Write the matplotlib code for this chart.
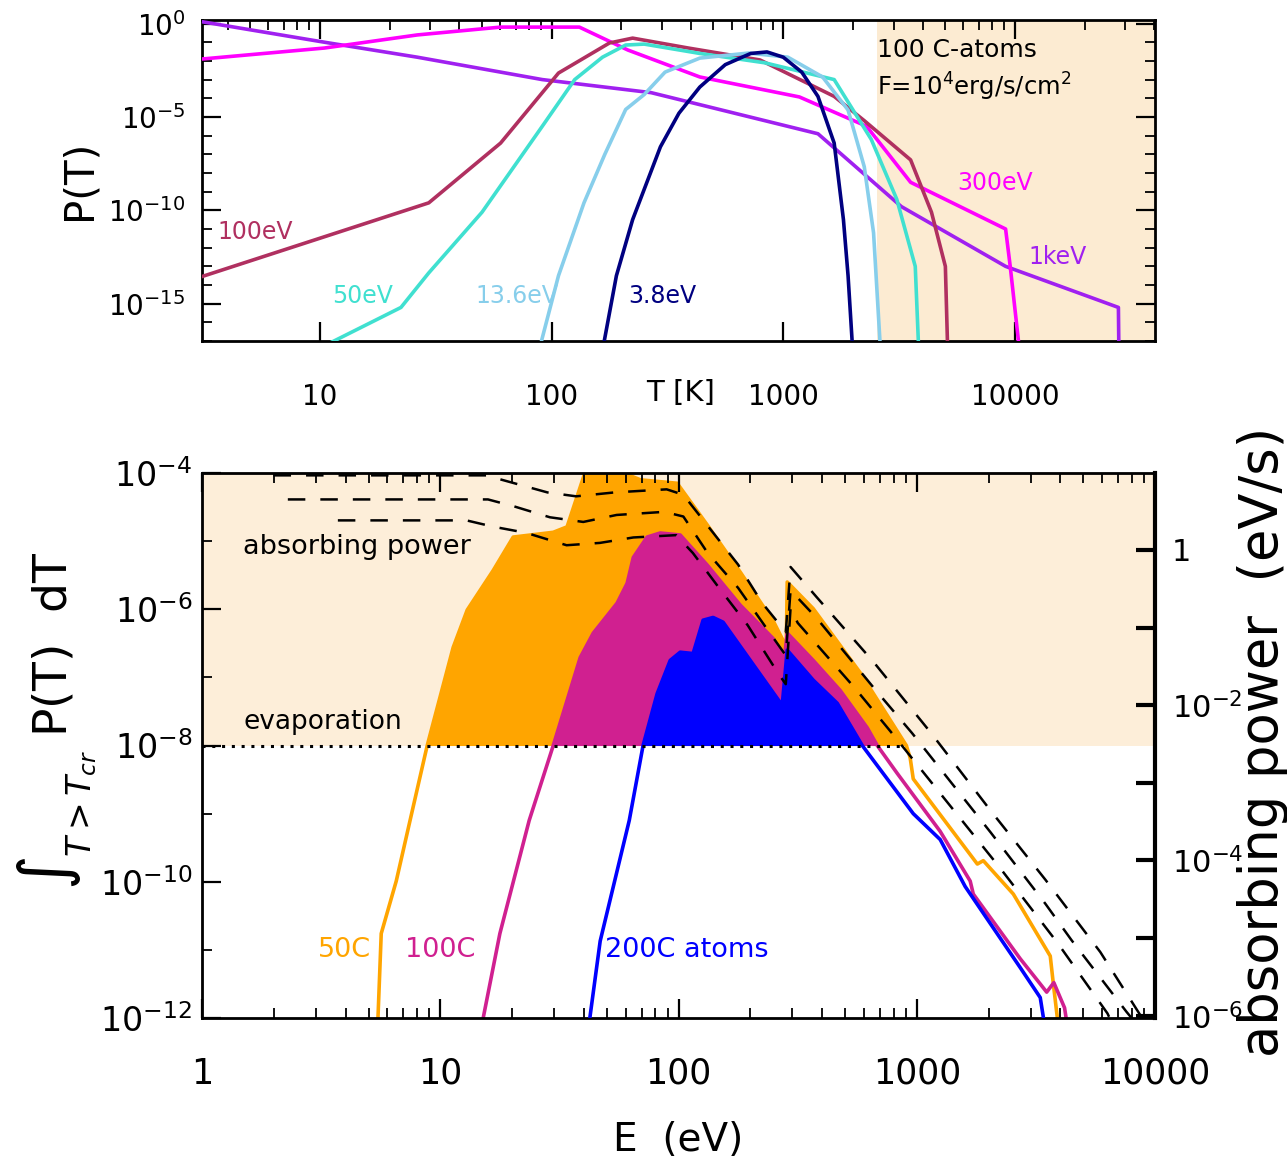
import numpy as np
import matplotlib.pyplot as plt
from matplotlib.ticker import FixedLocator, LogLocator, NullFormatter

plt.rcParams['font.family'] = ['DejaVu Sans']
plt.rcParams['mathtext.fontset'] = 'dejavusans'

# ---------------- top panel: P(T) for 100 C atoms (log10 values)
logT_1kev = [0.49, 1.02, 1.42, 1.96, 2.43, 3.15, 3.51, 3.96, 4.447, 4.449]
logP_1kev = [0.1, -1.0, -1.8, -3.0, -3.7, -5.9, -9.8, -13.0, -15.2, -17.5]

logT_300ev = [0.49, 1.02, 1.42, 1.78, 2.12, 2.33, 2.64, 3.07, 3.36, 3.55, 3.96, 3.98, 4.02]
logP_300ev = [-1.9, -1.31, -0.61, -0.19, -0.19, -1.42, -2.86, -3.93, -5.5, -8.5, -11.0, -13.0, -17.5]

logT_100ev = [0.49, 1.47, 1.78, 2.03, 2.25, 2.35, 2.59, 2.9, 3.22, 3.35, 3.55, 3.64, 3.70, 3.71]
logP_100ev = [-13.55, -9.6, -6.4, -2.65, -1.04, -0.78, -1.31, -1.95, -3.9, -5.2, -7.3, -10.1, -13.0, -17.5]

logT_50ev = [0.98, 1.35, 1.47, 1.70, 1.96, 2.10, 2.22, 2.32, 2.40, 2.64, 2.92, 3.22, 3.38, 3.49, 3.57, 3.585]
logP_50ev = [-17.5, -15.2, -13.35, -10.1, -5.5, -3.0, -1.8, -1.15, -1.1, -1.6, -2.1, -3.0, -6.2, -9.4, -13.0, -17.5]

logT_13ev = [1.946, 2.03, 2.14, 2.23, 2.32, 2.40, 2.49, 2.64, 2.85, 3.02, 3.17, 3.28, 3.35, 3.39, 3.42]
logP_13ev = [-17.5, -13.5, -9.6, -7.0, -4.6, -3.8, -2.6, -1.85, -1.58, -1.8, -2.86, -4.63, -7.67, -11.2, -17.5]

logT_4ev = [2.22, 2.28, 2.35, 2.47, 2.55, 2.64, 2.75, 2.86, 2.93, 3.00, 3.08, 3.15, 3.22, 3.26, 3.28, 3.30]
logP_4ev = [-17.5, -13.5, -10.5, -6.6, -4.8, -3.4, -2.2, -1.6, -1.52, -1.8, -2.6, -3.9, -6.4, -10.5, -13.5, -17.5]

t_shade_start = 2550.0

# ---------------- bottom panel: integrated P(T) above T_cr vs photon energy
logE_50c = [0.735, 0.752, 0.815, 0.873, 0.945, 1.054, 1.113, 1.222, 1.306, 1.474, 1.532,
            1.616, 1.70, 1.84, 1.994, 2.12, 2.26, 2.40, 2.452, 2.456, 2.565, 2.762, 2.956,
            2.972, 2.985, 3.254, 3.279, 3.405, 3.56, 3.573, 3.60]
logY_50c = [-12.3, -10.76, -9.99, -9.1, -8.0, -6.56, -6.01, -5.43, -4.94, -4.87, -4.79,
            -3.9, -3.9, -4.1, -4.15, -4.76, -5.46, -6.19, -6.55, -5.6, -5.99, -6.93, -8.0,
            -8.18, -8.49, -9.74, -9.69, -10.18, -11.09, -11.5, -12.3]

logE_100c = [1.163, 1.25, 1.373, 1.474, 1.587, 1.642, 1.742, 1.784, 1.81, 1.868, 1.923, 2.007,
             2.12, 2.259, 2.397, 2.443, 2.456, 2.565, 2.678, 2.792, 2.834, 2.918, 3.098, 3.224,
             3.237, 3.434, 3.518, 3.545, 3.575, 3.62, 3.64]
logY_100c = [-12.3, -10.76, -9.1, -8.0, -6.71, -6.35, -5.91, -5.62, -5.24, -4.94, -4.88, -4.91,
             -5.35, -5.94, -6.43, -6.75, -6.35, -6.75, -7.19, -7.74, -8.0, -8.41, -9.26, -9.99,
             -10.18, -11.13, -11.5, -11.62, -11.48, -11.85, -12.3]

logE_200c = [1.616, 1.671, 1.793, 1.851, 1.91, 1.965, 2.007, 2.061, 2.103, 2.145, 2.187, 2.435,
             2.456, 2.565, 2.666, 2.771, 2.985, 3.098, 3.203, 3.434, 3.518, 3.545]
logY_200c = [-12.3, -10.87, -9.1, -8.0, -7.24, -6.75, -6.63, -6.65, -6.16, -6.12, -6.19, -7.41,
             -6.6, -7.04, -7.38, -8.0, -9.0, -9.38, -10.07, -11.26, -11.7, -12.3]

# absorbing power (eV/s), right axis, three dashed curves
logE_absA = [0.30, 1.20, 1.25, 1.45, 1.57, 1.73, 1.95, 2.02, 2.25, 2.35, 2.45, 2.47,
             2.58, 2.82, 3.06, 3.31, 3.54, 3.77, 3.96]
logW_absA = [0.96, 0.96, 0.91, 0.74, 0.69, 0.74, 0.78, 0.71, -0.19, -0.68, -1.06, -0.22,
             -0.61, -1.45, -2.36, -3.36, -4.25, -5.18, -6.1]
logE_absB = [0.36, 1.20, 1.31, 1.46, 1.60, 1.74, 1.94, 2.02, 2.12, 2.25, 2.36, 2.45, 2.47,
             2.58, 2.82, 2.98, 3.31, 3.54, 3.65, 3.77, 3.88, 3.92]
logW_absB = [0.65, 0.65, 0.56, 0.42, 0.36, 0.45, 0.49, 0.43, -0.03, -0.49, -0.97, -1.36, -0.52,
             -0.88, -1.78, -2.36, -3.64, -4.56, -5.03, -5.51, -5.95, -6.1]
logE_absC = [0.57, 1.11, 1.22, 1.36, 1.53, 1.67, 1.81, 1.99, 2.06, 2.17, 2.29, 2.42, 2.45, 2.47,
             2.50, 2.74, 2.89, 3.12, 3.35, 3.59, 3.80, 3.82]
logW_absC = [0.38, 0.38, 0.30, 0.22, 0.06, 0.09, 0.16, 0.19, -0.04, -0.49, -0.97, -1.60, -1.73,
             -0.75, -0.94, -1.78, -2.34, -3.22, -4.10, -5.06, -5.97, -6.1]

evap_level = 1e-8

shade_top = '#FCEBD2'
shade_bot = '#FDEED9'

fig = plt.figure(figsize=(12.87, 11.70), dpi=100)

# ======================= top panel
ax1 = fig.add_axes([0.157, 0.7085, 0.7405, 0.2744])
ax1.set_xscale('log')
ax1.set_yscale('log')
ax1.axvspan(t_shade_start, 1e6, color=shade_top, lw=0, zorder=0)

top_curves = [
    (logT_1kev, logP_1kev, '#A020F0'),
    (logT_300ev, logP_300ev, '#FF00FF'),
    (logT_100ev, logP_100ev, '#B03060'),
    (logT_50ev, logP_50ev, '#40E0D0'),
    (logT_13ev, logP_13ev, '#87CEEB'),
    (logT_4ev, logP_4ev, '#000080'),
]
for lt, lp, col in top_curves:
    ax1.plot(10 ** np.array(lt), 10 ** np.array(lp), color=col, lw=2.6, zorder=3)

ax1.set_xlim(3.1, 4.03e4)
ax1.set_ylim(1e-17, 10 ** 0.19)
ax1.set_xticks([10, 100, 1000, 10000])
ax1.set_xticklabels(['10', '100', '1000', '10000'])
ax1.xaxis.set_minor_locator(LogLocator(base=10, subs=np.arange(2, 10)))
ax1.xaxis.set_minor_formatter(NullFormatter())
ax1.set_yticks([1, 1e-5, 1e-10, 1e-15])
ax1.set_yticklabels([r'$10^{0}$', r'$10^{-5}$', r'$10^{-10}$', r'$10^{-15}$'])
ax1.yaxis.set_minor_locator(FixedLocator([10.0 ** k for k in range(-17, 1)]))
ax1.yaxis.set_minor_formatter(NullFormatter())
ax1.tick_params(which='both', direction='in', top=True, right=True, labelsize=20)
ax1.tick_params(which='major', length=14, width=1.6)
ax1.tick_params(which='minor', length=7, width=1.3)
ax1.tick_params(axis='x', which='minor', bottom=False)
ax1.tick_params(axis='x', pad=30)
ax1.tick_params(axis='y', pad=12)
for s in ax1.spines.values():
    s.set_linewidth(2)

ax1.text(0.5016, -0.162, 'T [K]', transform=ax1.transAxes, ha='center', va='center',
         fontsize=21)
top_labels = [
    ('100eV', 0.0157, 0.340, '#B03060'),
    ('50eV', 0.1364, 0.140, '#40E0D0'),
    ('13.6eV', 0.2865, 0.140, '#87CEEB'),
    ('3.8eV', 0.447, 0.140, '#000080'),
    ('300eV', 0.792, 0.492, '#FF00FF'),
    ('1keV', 0.8667, 0.262, '#A020F0'),
]
for txt, x, y, col in top_labels:
    ax1.text(x, y, txt, transform=ax1.transAxes, color=col, fontsize=17,
             ha='left', va='center')
ax1.text(0.708, 0.9065, '100 C-atoms', transform=ax1.transAxes, fontsize=18,
         ha='left', va='center')
ax1.text(0.708, 0.791, r'F=10$^{4}$erg/s/cm$^{2}$', transform=ax1.transAxes,
         fontsize=17.5, ha='left', va='center')
fig.text(0.062, 0.846, 'P(T)', rotation=90, ha='center', va='center', fontsize=29)

# ======================= bottom panel
ax2 = fig.add_axes([0.157, 0.1299, 0.7405, 0.4658])
ax2.set_xscale('log')
ax2.set_yscale('log')
ax2.axhspan(evap_level, 1.0, color=shade_bot, lw=0, zorder=0)

fills = [
    (logE_50c, logY_50c, '#FFA500'),
    (logE_100c, logY_100c, '#D02090'),
    (logE_200c, logY_200c, '#0000FF'),
]
for i, (le, ly, col) in enumerate(fills):
    e = 10 ** np.array(le)
    y = 10 ** np.array(ly)
    ax2.fill_between(e, evap_level, np.maximum(y, evap_level), color=col, lw=0,
                     zorder=1 + i)
    ax2.plot(e, y, color=col, lw=2.6, zorder=1.5 + i)

# dotted evaporation line up to where the 50C curve drops below it
e50 = 10 ** np.array(logE_50c)
e_end = e50[np.where(np.array(logY_50c) >= np.log10(evap_level))[0][-1]]
ax2.plot([1, e_end], [evap_level, evap_level], color='k', ls=(0, (1, 2.2)), lw=2.2,
         zorder=5)

ax2.set_xlim(1, 1e4)
ax2.set_ylim(1e-12, 1e-4)
ax2.set_xticks([1, 10, 100, 1000, 10000])
ax2.set_xticklabels(['1', '10', '100', '1000', '10000'])
ax2.xaxis.set_minor_locator(LogLocator(base=10, subs=np.arange(2, 10)))
ax2.xaxis.set_minor_formatter(NullFormatter())
ax2.set_yticks([1e-4, 1e-6, 1e-8, 1e-10, 1e-12])
ax2.set_yticklabels([r'$10^{-4}$', r'$10^{-6}$', r'$10^{-8}$', r'$10^{-10}$', r'$10^{-12}$'])
ax2.yaxis.set_minor_locator(FixedLocator([10.0 ** k for k in range(-12, -3)]))
ax2.yaxis.set_minor_formatter(NullFormatter())
ax2.tick_params(which='both', direction='in', top=True, right=False)
ax2.tick_params(which='major', length=14, width=1.6)
ax2.tick_params(which='minor', length=7, width=1.3)
ax2.tick_params(axis='x', pad=28, labelsize=25)
ax2.tick_params(axis='y', pad=7, labelsize=24)
for s in ax2.spines.values():
    s.set_linewidth(2)

ax3 = ax2.twinx()
ax3.set_yscale('log')
for le, lw_ in [(logE_absA, logW_absA), (logE_absB, logW_absB), (logE_absC, logW_absC)]:
    ax3.plot(10 ** np.array(le), 10 ** np.array(lw_), color='k', lw=1.8,
             ls=(0, (7, 6)), zorder=6)
ax3.set_ylim(10 ** -6.03, 10 ** 0.99)
ax3.set_xlim(1, 1e4)
ax3.set_yticks([1, 1e-1, 1e-2, 1e-3, 1e-4, 1e-5, 1e-6])
ax3.set_yticklabels(['1', '', r'$10^{-2}$', '', r'$10^{-4}$', '', r'$10^{-6}$'])
ax3.yaxis.set_minor_locator(FixedLocator([]))
ax3.tick_params(axis='y', direction='in', length=14, width=3, labelsize=22, pad=12)
ax3.spines['right'].set_linewidth(3)

ax2.text(0.043, 0.864, 'absorbing power', transform=ax2.transAxes, fontsize=19.5,
         ha='left', va='center', zorder=7)
ax2.text(0.043, 0.543, 'evaporation', transform=ax2.transAxes, fontsize=19,
         ha='left', va='center', zorder=7)
ax2.text(0.1217, 0.125, '50C', transform=ax2.transAxes, fontsize=19.5, color='#FFA500',
         ha='left', va='center')
ax2.text(0.213, 0.125, '100C', transform=ax2.transAxes, fontsize=19.5, color='#D02090',
         ha='left', va='center')
ax2.text(0.4229, 0.125, '200C atoms', transform=ax2.transAxes, fontsize=19.5,
         color='#0000FF', ha='left', va='center')

fig.text(0.527, 0.0256, 'E  (eV)', ha='center', va='center', fontsize=28)
fig.text(0.044, 0.384, r'$\int_{T>T_{cr}}$ P(T)  dT', rotation=90, ha='center',
         va='center', fontsize=34)
fig.text(0.9815, 0.366, 'absorbing power  (eV/s)', rotation=90, ha='center',
         va='center', fontsize=38)

fig.savefig('out.png', dpi=100)
